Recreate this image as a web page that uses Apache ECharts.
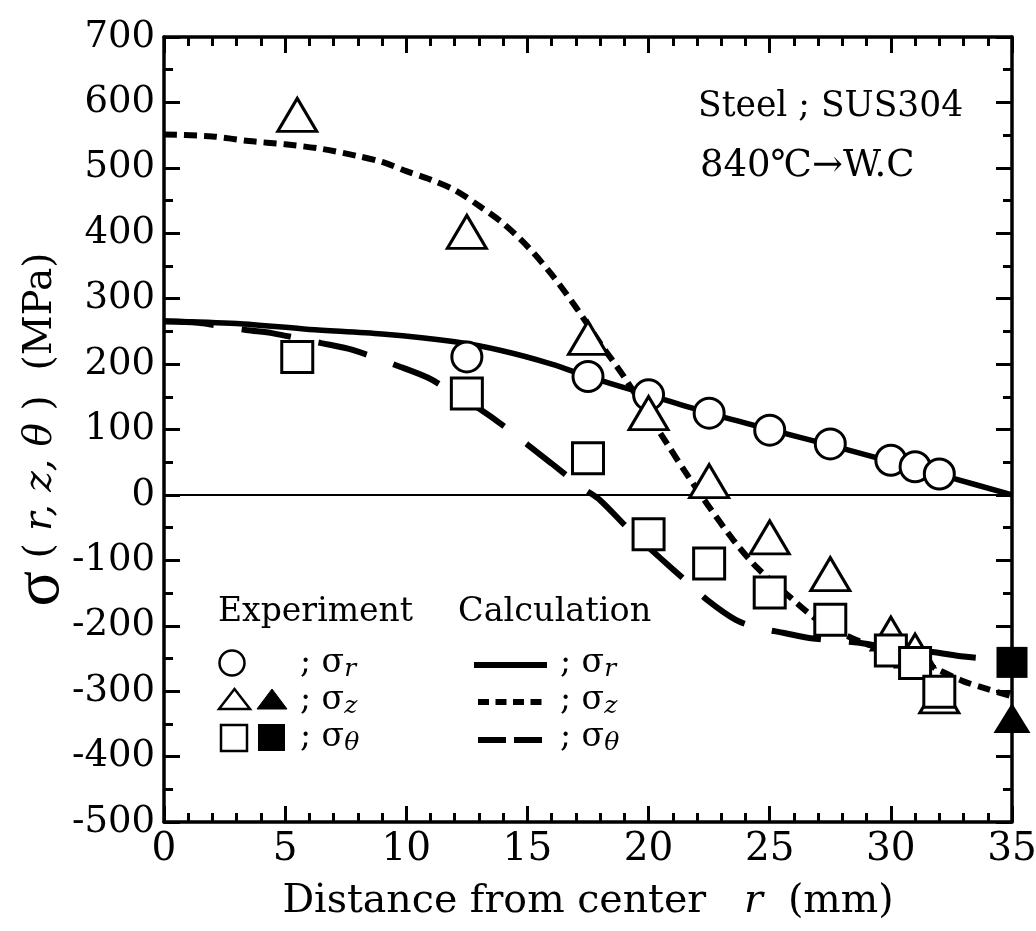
<!DOCTYPE html>
<html><head><meta charset="utf-8">
<script src="https://cdn.jsdelivr.net/npm/echarts@6/dist/echarts.min.js"></script>
<style>html,body{margin:0;padding:0;background:#fff}#c{width:1036px;height:931px}</style>
</head><body><div id="c"></div>
<script>
// ---- data ----
const xTicks = [0, 5, 10, 15, 20, 25, 30, 35];
const yTicks = [-500, -400, -300, -200, -100, 0, 100, 200, 300, 400, 500, 600, 700];

// Experiment (open symbols)
const expR_x = [12.5, 17.5, 20, 22.5, 25, 27.5, 30, 31, 32];
const expR_y = [211, 181, 153, 125, 99, 78, 53, 43, 32];
const expZ_x = [5.5, 12.5, 17.5, 20, 22.5, 25, 27.5, 30, 31, 32];
const expZ_y = [581, 402, 240, 125, 21, -65, -121, -212, -238, -308];
const expT_x = [5.5, 12.5, 17.5, 20, 22.5, 25, 27.5, 30, 31, 32];
const expT_y = [211, 155, 56, -60, -105, -149, -191, -238, -257, -301];
// Experiment (filled symbols, surface)
const expZs_x = [35];
const expZs_y = [-341];
const expTs_x = [35];
const expTs_y = [-256];

// Calculation
const calR_x = [0, 3, 6, 9, 12, 14, 16, 17.5, 20, 22.5, 25, 27.5, 30, 32.5, 35];
const calR_y = [266, 262, 253, 246, 234, 220, 200, 181, 153, 125, 100, 76, 51, 26, 0];
const calZ_x = [0, 2, 3.5, 5, 6.5, 8, 9, 10, 11, 12, 13, 14, 15, 16, 17, 18, 19, 20, 20.75, 21.5, 22.4, 23.5, 24.5, 25.8, 27, 28, 29, 30, 31, 32, 33, 34, 35];
const calZ_y = [551, 548, 541, 536, 529, 518, 509, 495, 482, 466, 442, 415, 380, 337, 287, 232, 180, 122, 79, 36, -13, -69, -112, -155, -192, -212, -228, -238, -250, -268, -285, -297, -308];
const calT_x = [0, 1.4, 3.4, 4.5, 6.5, 7.75, 9.74, 10.9, 11.9, 13, 14, 15, 16, 17.3, 18, 19.2, 20.5, 21.5, 22.4, 23.6, 24.5, 25.6, 26.7, 28.7, 30, 31.7, 33, 34.5, 35];
const calT_y = [265, 263, 252, 247, 232, 222, 196, 179, 157, 132, 106, 77, 48, 10, -8, -53, -97, -130, -160, -191, -203, -211, -219, -226, -234, -240, -247, -252, -255];

const zeroLine_x = [0, 35];
const zeroLine_y = [0, 0];

const annot1 = 'Steel ; SUS304';
const annot2 = '840℃→W.C';

// ---- helpers ----
const zip = (xs, ys) => xs.map((x, i) => [x, ys[i]]);
const FF = '"DejaVu Serif", "Liberation Serif", serif';
const BLACK = '#000';

const chart = echarts.init(document.getElementById('c'), null, {renderer: 'canvas'});

function xAxisDef(pos, showLabel) {
  return {
    type: 'value', position: pos, min: 0, max: 35, interval: 5,
    axisLine: {show: true, onZero: false, lineStyle: {color: BLACK, width: 3.5}},
    axisTick: {show: true, inside: true, length: 16, lineStyle: {color: BLACK, width: 3}},
    minorTick: {show: true, splitNumber: 5, length: 9, lineStyle: {color: BLACK, width: 3}},
    splitLine: {show: false}, minorSplitLine: {show: false},
    axisLabel: {show: showLabel, color: BLACK, fontFamily: FF, fontSize: 39, margin: 8,
      formatter: v => xTicks.includes(v) ? String(v) : ''},
  };
}
function yAxisDef(pos, showLabel) {
  return {
    type: 'value', position: pos, min: -500, max: 700, interval: 100,
    axisLine: {show: true, onZero: false, lineStyle: {color: BLACK, width: 3.5}},
    axisTick: {show: true, inside: true, length: 16, lineStyle: {color: BLACK, width: 3}},
    minorTick: {show: true, splitNumber: 2, length: 9, lineStyle: {color: BLACK, width: 3}},
    splitLine: {show: false}, minorSplitLine: {show: false},
    axisLabel: {show: showLabel, color: BLACK, fontFamily: FF, fontSize: 37, margin: 9,
      formatter: v => yTicks.includes(v) ? String(v) : ''},
  };
}

const xB = xAxisDef('bottom', true);
xB.name = '{a|Distance from center   }{i|r}{a|  (mm)}';
xB.nameLocation = 'middle';
xB.nameGap = 60;
xB.nameMoveOverlap = false;
xB.nameTextStyle = {color: BLACK, rich: {
  a: {fontFamily: FF, fontSize: 39.5, color: BLACK},
  i: {fontFamily: FF, fontSize: 39.5, fontStyle: 'italic', color: BLACK}}};
const xT = xAxisDef('top', false);

const yL = yAxisDef('left', true);
yL.name = '{s|σ}{p| ( }{i|r, z, θ}{p| )  (MPa)}';
yL.nameLocation = 'middle';
yL.nameGap = 90;
yL.nameRotate = 90;
yL.nameMoveOverlap = false;
yL.nameTextStyle = {color: BLACK, rich: {
  s: {fontFamily: '"Liberation Serif", serif', fontSize: 66, color: BLACK},
  p: {fontFamily: FF, fontSize: 39, color: BLACK},
  i: {fontFamily: FF, fontSize: 39, fontStyle: 'italic', color: BLACK}}};
const yR = yAxisDef('right', false);

function lineSeries(name, xs, ys, type, width, z) {
  return {
    name, type: 'line', data: zip(xs, ys), showSymbol: false, symbol: 'none',
    smooth: 0.3, z, silent: true,
    lineStyle: {color: BLACK, width, type, cap: 'butt'},
  };
}
function scatterSeries(name, xs, ys, symbol, size, filled, z) {
  return {
    name, type: 'scatter', data: zip(xs, ys), symbol, symbolSize: size, z, silent: true,
    itemStyle: {color: filled ? BLACK : '#fff', borderColor: BLACK, borderWidth: filled ? 0 : 3, opacity: 1},
  };
}

// ---- legend drawn as graphic ----
function sigmaLabel(x, yc, sub) {
  return {
    type: 'text', x: x, y: yc, z: 100,
    style: {
      text: '{a|; σ}{b|' + sub + '}', verticalAlign: 'middle',
      rich: {
        a: {fontFamily: FF, fontSize: 33, color: BLACK},
        b: {fontFamily: FF, fontSize: 25, fontStyle: 'italic', color: BLACK, padding: [13, 0, 0, 0]}
      }
    }
  };
}
const rows = [663, 700, 737];
const graphics = [
  {type: 'text', x: 698, y: 107, z: 100, style: {text: annot1, fontFamily: FF, fontSize: 34.5, fill: BLACK, verticalAlign: 'middle'}},
  {type: 'text', x: 700, y: 166, z: 100, style: {text: annot2, fontFamily: FF, fontSize: 37, fill: BLACK, verticalAlign: 'middle'}},
  {type: 'text', x: 218, y: 612, z: 100, style: {text: 'Experiment', fontFamily: FF, fontSize: 33, fill: BLACK, verticalAlign: 'middle'}},
  {type: 'text', x: 458, y: 612, z: 100, style: {text: 'Calculation', fontFamily: FF, fontSize: 33.5, fill: BLACK, verticalAlign: 'middle'}},
  // symbols
  {type: 'circle', z: 100, shape: {cx: 232, cy: rows[0], r: 12.5}, style: {fill: '#fff', stroke: BLACK, lineWidth: 2.5}},
  {type: 'polygon', z: 100, shape: {points: [[219, rows[1] + 9], [250, rows[1] + 9], [234.5, rows[1] - 11]]}, style: {fill: '#fff', stroke: BLACK, lineWidth: 2.5}},
  {type: 'polygon', z: 100, shape: {points: [[257, rows[1] + 9], [287, rows[1] + 9], [272, rows[1] - 11]]}, style: {fill: BLACK, stroke: BLACK, lineWidth: 1}},
  {type: 'rect', z: 100, shape: {x: 221, y: rows[2] - 12, width: 26, height: 26}, style: {fill: '#fff', stroke: BLACK, lineWidth: 2.5}},
  {type: 'rect', z: 100, shape: {x: 258, y: rows[2] - 13, width: 27, height: 27}, style: {fill: BLACK, stroke: BLACK, lineWidth: 0}},
  sigmaLabel(300, rows[0], 'r'),
  sigmaLabel(300, rows[1], 'z'),
  sigmaLabel(300, rows[2], 'θ'),
  // calc lines
  {type: 'line', z: 100, shape: {x1: 474, y1: rows[0] + 2, x2: 547, y2: rows[0] + 2}, style: {stroke: BLACK, lineWidth: 6}},
  {type: 'line', z: 100, shape: {x1: 478, y1: rows[1] + 2, x2: 542, y2: rows[1] + 2}, style: {stroke: BLACK, lineWidth: 6, lineDash: [11, 6.5]}},
  {type: 'line', z: 100, shape: {x1: 478, y1: rows[2] + 3, x2: 542, y2: rows[2] + 3}, style: {stroke: BLACK, lineWidth: 6, lineDash: [28, 8]}},
  sigmaLabel(560, rows[0], 'r'),
  sigmaLabel(560, rows[1], 'z'),
  sigmaLabel(560, rows[2], 'θ'),
];

chart.setOption({
  backgroundColor: '#fff',
  animation: false,
  grid: {left: 164, right: 24, top: 37, bottom: 109, containLabel: false, outerBoundsMode: 'none'},
  xAxis: [xB, xT],
  yAxis: [yL, yR],
  series: [
    {name: 'zero', type: 'line', data: zip(zeroLine_x, zeroLine_y), symbol: 'none', z: 1, silent: true,
     lineStyle: {color: BLACK, width: 2}},
    lineSeries('Calc σr', calR_x, calR_y, 'solid', 5.5, 2),
    lineSeries('Calc σz', calZ_x, calZ_y, [13, 7], 6, 2),
    lineSeries('Calc σθ', calT_x, calT_y, [50, 28], 6, 2),
    scatterSeries('Exp σr', expR_x, expR_y, 'circle', 30, false, 3),
    scatterSeries('Exp σz', expZ_x, expZ_y, 'triangle', [39, 33], false, 4),
    scatterSeries('Exp σθ', expT_x, expT_y, 'rect', 31, false, 5),
    scatterSeries('Exp σz surface', expZs_x, expZs_y, 'triangle', [37, 30], true, 6),
    scatterSeries('Exp σθ surface', expTs_x, expTs_y, 'rect', 31, true, 6),
  ],
  graphic: graphics,
});
</script>
</body></html>
